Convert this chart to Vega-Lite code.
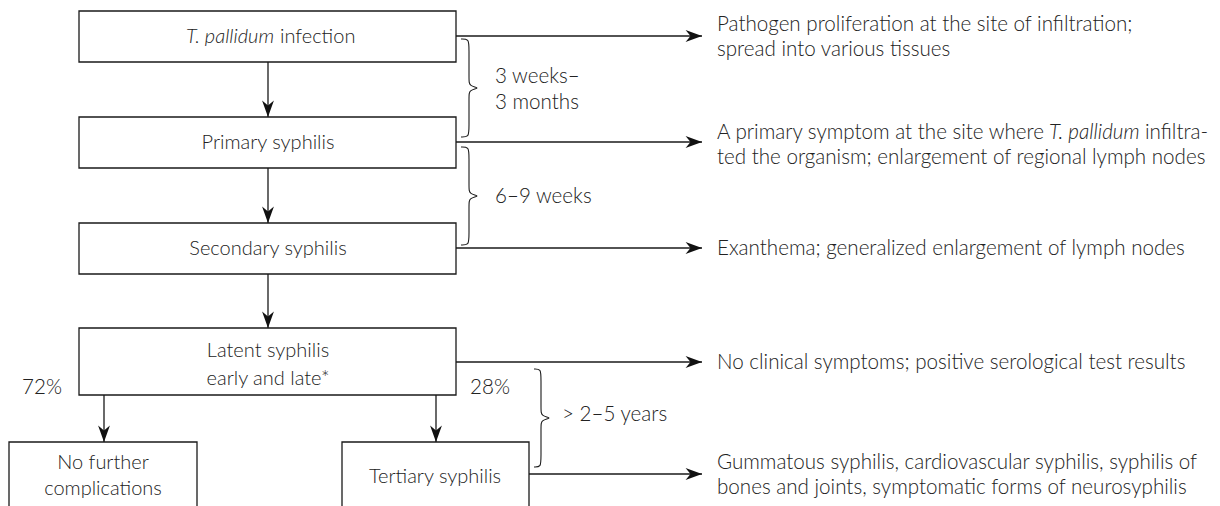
{
  "$schema": "https://vega.github.io/schema/vega-lite/v6.json",
  "width": 1220,
  "height": 506,
  "autosize": {"type": "fit", "contains": "padding"},
  "padding": 0,
  "background": "white",
  "config": {"view": {"stroke": null}},
  "datasets": {
    "boxes": [
      {"id": "infection", "x": 79, "x2": 456, "y": 11, "y2": 62},
      {"id": "primary", "x": 79, "x2": 456, "y": 117, "y2": 168},
      {"id": "secondary", "x": 79, "x2": 456, "y": 223, "y2": 274},
      {"id": "latent", "x": 79, "x2": 456, "y": 328, "y2": 395},
      {"id": "nofurther", "x": 9, "x2": 197, "y": 442, "y2": 540},
      {"id": "tertiary", "x": 342, "x2": 529, "y": 442, "y2": 540}
    ],
    "edges": [
      {"dir": "down", "x": 268, "y": 62, "x2": 268, "y2": 117},
      {"dir": "down", "x": 268, "y": 168, "x2": 268, "y2": 223},
      {"dir": "down", "x": 268, "y": 274, "x2": 268, "y2": 328},
      {"dir": "down", "x": 104, "y": 395, "x2": 104, "y2": 442},
      {"dir": "down", "x": 436, "y": 395, "x2": 436, "y2": 442},
      {"dir": "right", "x": 456, "y": 36, "x2": 702, "y2": 36},
      {"dir": "right", "x": 456, "y": 142, "x2": 702, "y2": 142},
      {"dir": "right", "x": 456, "y": 248, "x2": 702, "y2": 248},
      {"dir": "right", "x": 456, "y": 362, "x2": 702, "y2": 362},
      {"dir": "right", "x": 529, "y": 474, "x2": 702, "y2": 474}
    ],
    "braces": [
      {"b": 1, "o": 0, "x": 461, "y": 39}, {"b": 1, "o": 1, "x": 469, "y": 39}, {"b": 1, "o": 2, "x": 469, "y": 47},
      {"b": 1, "o": 3, "x": 469, "y": 80}, {"b": 1, "o": 4, "x": 469, "y": 86}, {"b": 1, "o": 5, "x": 481, "y": 88},
      {"b": 1, "o": 6, "x": 469, "y": 90}, {"b": 1, "o": 7, "x": 469, "y": 96}, {"b": 1, "o": 8, "x": 469, "y": 129},
      {"b": 1, "o": 9, "x": 469, "y": 137}, {"b": 1, "o": 10, "x": 461, "y": 137},
      {"b": 2, "o": 0, "x": 461, "y": 147}, {"b": 2, "o": 1, "x": 469, "y": 147}, {"b": 2, "o": 2, "x": 469, "y": 155},
      {"b": 2, "o": 3, "x": 469, "y": 188}, {"b": 2, "o": 4, "x": 469, "y": 194}, {"b": 2, "o": 5, "x": 481, "y": 196},
      {"b": 2, "o": 6, "x": 469, "y": 198}, {"b": 2, "o": 7, "x": 469, "y": 204}, {"b": 2, "o": 8, "x": 469, "y": 237},
      {"b": 2, "o": 9, "x": 469, "y": 245}, {"b": 2, "o": 10, "x": 461, "y": 245},
      {"b": 3, "o": 0, "x": 534, "y": 369}, {"b": 3, "o": 1, "x": 541, "y": 369}, {"b": 3, "o": 2, "x": 541, "y": 377},
      {"b": 3, "o": 3, "x": 541, "y": 410}, {"b": 3, "o": 4, "x": 541, "y": 416}, {"b": 3, "o": 5, "x": 553, "y": 418},
      {"b": 3, "o": 6, "x": 541, "y": 420}, {"b": 3, "o": 7, "x": 541, "y": 426}, {"b": 3, "o": 8, "x": 541, "y": 459},
      {"b": 3, "o": 9, "x": 541, "y": 467}, {"b": 3, "o": 10, "x": 534, "y": 467}
    ],
    "centerLabels": [
      {"t": "Primary syphilis", "x": 268, "y": 143},
      {"t": "Secondary syphilis", "x": 268, "y": 249},
      {"t": "Latent syphilis", "x": 268, "y": 351},
      {"t": "early and late*", "x": 268, "y": 379},
      {"t": "No further", "x": 103, "y": 463},
      {"t": "complications", "x": 103, "y": 489},
      {"t": "Tertiary syphilis", "x": 435, "y": 477}
    ],
    "boxLeftLabels": [
      {"t": "infection", "x": 280, "y": 37}
    ],
    "leftLabels": [
      {"t": "3 weeks–", "x": 495, "y": 77},
      {"t": "3 months", "x": 495, "y": 103},
      {"t": "6–9 weeks", "x": 495, "y": 197},
      {"t": "> 2–5 years", "x": 562, "y": 415},
      {"t": "72%", "x": 22, "y": 388},
      {"t": "28%", "x": 470, "y": 388},
      {"t": "Pathogen proliferation at the site of infiltration;", "x": 717, "y": 25},
      {"t": "spread into various tissues", "x": 717, "y": 50},
      {"t": "A primary symptom at the site where", "x": 717, "y": 133},
      {"t": "infiltra-", "x": 1145, "y": 133},
      {"t": "ted the organism; enlargement of regional lymph nodes", "x": 717, "y": 158},
      {"t": "Exanthema; generalized enlargement of lymph nodes", "x": 717, "y": 249},
      {"t": "No clinical symptoms; positive serological test results", "x": 717, "y": 363},
      {"t": "Gummatous syphilis, cardiovascular syphilis, syphilis of", "x": 717, "y": 463},
      {"t": "bones and joints, symptomatic forms of neurosyphilis", "x": 717, "y": 488}
    ],
    "italicRight": [
      {"t": "T. pallidum", "x": 274, "y": 37}
    ],
    "italicLeft": [
      {"t": "T. pallidum", "x": 1049, "y": 133}
    ]
  },
  "layer": [
    {
      "data": {"name": "boxes"},
      "mark": {"type": "rect", "fill": "white", "stroke": "#1a1a1a", "strokeWidth": 1.3, "clip": true},
      "encoding": {
        "x": {"field": "x", "type": "quantitative", "scale": {"domain": [0, 1220], "nice": false, "zero": false}, "axis": null},
        "x2": {"field": "x2"},
        "y": {"field": "y", "type": "quantitative", "scale": {"domain": [0, 506], "reverse": true, "nice": false, "zero": false}, "axis": null},
        "y2": {"field": "y2"}
      }
    },
    {
      "data": {"name": "edges"},
      "mark": {"type": "rule", "color": "#1a1a1a", "strokeWidth": 1.3},
      "encoding": {
        "x": {"field": "x", "type": "quantitative"},
        "x2": {"field": "x2"},
        "y": {"field": "y", "type": "quantitative"},
        "y2": {"field": "y2"}
      }
    },
    {
      "data": {"name": "edges"},
      "transform": [{"filter": "datum.dir === 'right'"}],
      "mark": {"type": "point", "shape": "M0,0L-2,-0.72L-1.4,0L-2,0.72Z", "filled": true, "size": 270, "color": "#111", "opacity": 1, "strokeWidth": 0},
      "encoding": {
        "x": {"field": "x2", "type": "quantitative"},
        "y": {"field": "y2", "type": "quantitative"}
      }
    },
    {
      "data": {"name": "edges"},
      "transform": [{"filter": "datum.dir === 'down'"}],
      "mark": {"type": "point", "shape": "M0,0L-0.72,-2L0,-1.4L0.72,-2Z", "filled": true, "size": 270, "color": "#111", "opacity": 1, "strokeWidth": 0},
      "encoding": {
        "x": {"field": "x2", "type": "quantitative"},
        "y": {"field": "y2", "type": "quantitative"}
      }
    },
    {
      "data": {"name": "braces"},
      "mark": {"type": "line", "interpolate": "basis", "color": "#1a1a1a", "strokeWidth": 1.1},
      "encoding": {
        "x": {"field": "x", "type": "quantitative"},
        "y": {"field": "y", "type": "quantitative"},
        "detail": {"field": "b"},
        "order": {"field": "o", "type": "quantitative"}
      }
    },
    {
      "data": {"name": "centerLabels"},
      "mark": {"type": "text", "align": "center", "baseline": "middle", "font": "Lato", "fontWeight": 300, "fontSize": 20, "color": "#222"},
      "encoding": {
        "x": {"field": "x", "type": "quantitative"},
        "y": {"field": "y", "type": "quantitative"},
        "text": {"field": "t"}
      }
    },
    {
      "data": {"name": "boxLeftLabels"},
      "mark": {"type": "text", "align": "left", "baseline": "middle", "font": "Lato", "fontWeight": 300, "fontSize": 20, "color": "#222"},
      "encoding": {
        "x": {"field": "x", "type": "quantitative"},
        "y": {"field": "y", "type": "quantitative"},
        "text": {"field": "t"}
      }
    },
    {
      "data": {"name": "leftLabels"},
      "mark": {"type": "text", "align": "left", "baseline": "middle", "font": "Lato", "fontWeight": 300, "fontSize": 20.6, "color": "#222"},
      "encoding": {
        "x": {"field": "x", "type": "quantitative"},
        "y": {"field": "y", "type": "quantitative"},
        "text": {"field": "t"}
      }
    },
    {
      "data": {"name": "italicRight"},
      "mark": {"type": "text", "align": "right", "baseline": "middle", "font": "Lato", "fontWeight": 300, "fontStyle": "italic", "fontSize": 20, "color": "#222"},
      "encoding": {
        "x": {"field": "x", "type": "quantitative"},
        "y": {"field": "y", "type": "quantitative"},
        "text": {"field": "t"}
      }
    },
    {
      "data": {"name": "italicLeft"},
      "mark": {"type": "text", "align": "left", "baseline": "middle", "font": "Lato", "fontWeight": 300, "fontStyle": "italic", "fontSize": 20.6, "color": "#222"},
      "encoding": {
        "x": {"field": "x", "type": "quantitative"},
        "y": {"field": "y", "type": "quantitative"},
        "text": {"field": "t"}
      }
    }
  ]
}
